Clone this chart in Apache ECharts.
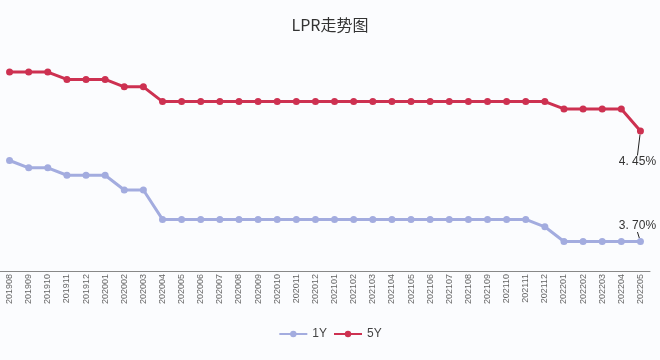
<!DOCTYPE html>
<html><head><meta charset="utf-8">
<script src="https://cdn.jsdelivr.net/npm/echarts@6/dist/echarts.min.js"></script>
<style>html,body{margin:0;padding:0;background:#fbfcfe;}#c{width:660px;height:360px;}</style>
</head><body><div id="c"></div>
<script>
const categories = ['201908','201909','201910','201911','201912','202001','202002','202003','202004','202005','202006','202007','202008','202009','202010','202011','202012','202101','202102','202103','202104','202105','202106','202107','202108','202109','202110','202111','202112','202201','202202','202203','202204','202205'];
const lpr1Y = [4.25,4.20,4.20,4.15,4.15,4.15,4.05,4.05,3.85,3.85,3.85,3.85,3.85,3.85,3.85,3.85,3.85,3.85,3.85,3.85,3.85,3.85,3.85,3.85,3.85,3.85,3.85,3.85,3.80,3.70,3.70,3.70,3.70,3.70];
const lpr5Y = [4.85,4.85,4.85,4.80,4.80,4.80,4.75,4.75,4.65,4.65,4.65,4.65,4.65,4.65,4.65,4.65,4.65,4.65,4.65,4.65,4.65,4.65,4.65,4.65,4.65,4.65,4.65,4.65,4.65,4.60,4.60,4.60,4.60,4.45];
const lastLabels1Y = '3. 70%';
const lastLabels5Y = '4. 45%';

function withLastLabel(arr, text) {
  return arr.map((v, i) => i === arr.length - 1 ? {value: v, label: {show: true, formatter: text}} : v);
}

const chart = echarts.init(document.getElementById('c'));
chart.setOption({
  backgroundColor: '#fbfcfe',
  animation: false,
  title: {text: 'LPR走势图', left: 'center', top: 12, textStyle: {fontSize: 16, fontWeight: 'normal', color: '#333', fontFamily: 'Noto Sans CJK SC'}},
  legend: {bottom: 15, left: 'center', itemWidth: 28, itemHeight: 8, itemGap: 6, textStyle: {fontSize: 12, color: '#444'}, data: ['1Y', '5Y']},
  grid: {left: -2, right: 10, top: 50, bottom: 89, containLabel: false},
  xAxis: {type: 'category', data: categories, boundaryGap: true,
    axisLine: {lineStyle: {color: '#888', width: 1}}, axisTick: {show: false},
    axisLabel: {rotate: 90, fontSize: 9, color: '#666', interval: 0, margin: 3}},
  yAxis: {type: 'value', min: 3.5, max: 5.0, show: false, splitLine: {show: false}},
  series: [
    {name: '1Y', type: 'line', data: withLastLabel(lpr1Y, lastLabels1Y), color: '#a3acdf',
      symbol: 'circle', symbolSize: 7, lineStyle: {width: 3},
      label: {show: false, color: '#333', fontSize: 12, position: 'top'},
      labelLine: {show: true, lineStyle: {color: '#222', width: 1}},
      labelLayout: {dx: -3, dy: -1}},
    {name: '5Y', type: 'line', data: withLastLabel(lpr5Y, lastLabels5Y), color: '#cd3151',
      symbol: 'circle', symbolSize: 7, lineStyle: {width: 3},
      label: {show: false, color: '#333', fontSize: 12, position: 'bottom'},
      labelLine: {show: true, lineStyle: {color: '#222', width: 1}},
      labelLayout: {dx: -3, dy: 16}}
  ]
});
</script></body></html>
